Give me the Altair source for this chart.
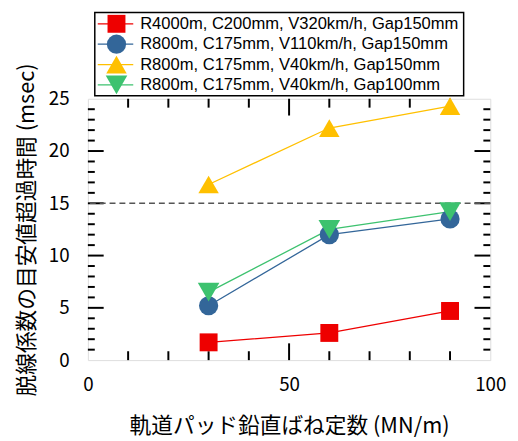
import altair as alt
import pandas as pd

# ---- data ----
series = [
    "R4000m, C200mm, V320km/h, Gap150mm",
    "R800m, C175mm, V110km/h, Gap150mm",
    "R800m, C175mm, V40km/h, Gap150mm",
    "R800m, C175mm, V40km/h, Gap100mm",
]
stiffness = [30, 60, 90]
val_r4000_v320 = [1.7, 2.6, 4.7]
val_r800_v110 = [5.2, 12.0, 13.5]
val_r800_v40_g150 = [16.8, 22.2, 24.3]
val_r800_v40_g100 = [6.5, 12.5, 14.2]
threshold = [15]

x_labels = [0, 50, 100]
y_labels = [0, 5, 10, 15, 20, 25]
x_minor = [10, 20, 30, 40, 60, 70, 80, 90]
x_major = [50]
y_minor = [1, 2, 3, 4, 6, 7, 8, 9, 11, 12, 13, 14, 16, 17, 18, 19, 21, 22, 23, 24]
y_major = [5, 10, 15, 20]

colors = ["#EE0000", "#336699", "#FFC000", "#3DC26F"]
shapes = ["square", "circle", "triangle-up", "triangle-down"]
sizes = [330, 480, 620, 620]

x_title = "軌道パッド鉛直ばね定数 (MN/m)"
y_title = "脱線係数の目安値超過時間 (msec)"

FONT = "Noto Sans CJK JP"
LEG_FONT = "Liberation Sans"
W, H = 408, 265

values = [val_r4000_v320, val_r800_v110, val_r800_v40_g150, val_r800_v40_g100]
rows = []
for i, (s, vals) in enumerate(zip(series, values)):
    for x, y in zip(stiffness, vals):
        rows.append({"series": s, "order": i, "x": x, "y": y})
df = pd.DataFrame(rows)
leg_df = pd.DataFrame({"series": series, "order": list(range(len(series)))})

color_scale = alt.Scale(domain=series, range=colors)
shape_scale = alt.Scale(domain=series, range=shapes)
size_scale = alt.Scale(domain=series, range=sizes)

xs = alt.Scale(domain=[0, 100], nice=False, zero=False)
ys = alt.Scale(domain=[0, 25], nice=False, zero=False)

x_axis = alt.Axis(values=x_labels, ticks=False, domain=False, grid=False,
                  labelFont=FONT, labelFontSize=19, labelColor="black",
                  labelPadding=16, labelFlush=False, labelOverlap=False,
                  title=x_title, titleFont=FONT, titleFontSize=22,
                  titleFontWeight="normal", titleColor="black", titlePadding=21)
y_axis = alt.Axis(values=y_labels, ticks=False, domain=False, grid=False,
                  labelFont=FONT, labelFontSize=19, labelColor="black",
                  labelPadding=19, labelFlush=False, labelOverlap=False,
                  title=y_title, titleFont=FONT, titleFontSize=22,
                  titleFontWeight="normal", titleColor="black", titlePadding=10)

base = alt.Chart(df)

lines = base.mark_line(strokeWidth=1.3).encode(
    x=alt.X("x:Q", scale=xs, axis=x_axis),
    y=alt.Y("y:Q", scale=ys, axis=y_axis),
    color=alt.Color("series:N", scale=color_scale, legend=None),
    detail="order:O",
)

points = base.mark_point(filled=True, opacity=1).encode(
    x=alt.X("x:Q", scale=xs),
    y=alt.Y("y:Q", scale=ys),
    color=alt.Color("series:N", scale=color_scale, legend=None),
    shape=alt.Shape("series:N", scale=shape_scale, legend=None),
    size=alt.Size("series:N", scale=size_scale, legend=None),
    order=alt.Order("order:Q"),
)

dash = alt.Chart(pd.DataFrame({"v": threshold})).mark_rule(
    strokeDash=[6, 4], color="#555555", strokeWidth=1.5
).encode(y=alt.Y("v:Q", scale=ys))


def xticks(vals, length):
    d = alt.Chart(pd.DataFrame({"v": vals}))
    bot = d.mark_rule(color="black", strokeWidth=2).encode(
        x=alt.X("v:Q", scale=xs), y=alt.value(H), y2=alt.value(H - length))
    top = d.mark_rule(color="black", strokeWidth=2).encode(
        x=alt.X("v:Q", scale=xs), y=alt.value(0), y2=alt.value(length))
    return [bot, top]


def yticks(vals, length):
    d = alt.Chart(pd.DataFrame({"v": vals}))
    left = d.mark_rule(color="black", strokeWidth=2).encode(
        y=alt.Y("v:Q", scale=ys), x=alt.value(0), x2=alt.value(length))
    right = d.mark_rule(color="black", strokeWidth=2).encode(
        y=alt.Y("v:Q", scale=ys), x=alt.value(W), x2=alt.value(W - length))
    return [left, right]


tick_layers = xticks(x_minor, 9) + xticks(x_major, 17) + yticks(y_minor, 7) + yticks(y_major, 16)

plot = alt.layer(*tick_layers, dash, lines, points)

# ---- legend drawn as its own layer, rows placed by a point scale ----
ly = alt.Y("series:N", scale=alt.Scale(type="point", domain=series, range=[-76, -14], padding=0), axis=None)
leg_base = alt.Chart(leg_df)
box = alt.Chart(pd.DataFrame({"a": [0]})).mark_rect(
    fill="white", stroke="black", strokeWidth=1.5
).encode(x=alt.value(7), x2=alt.value(381), y=alt.value(-87.5), y2=alt.value(-3))
leg_line = leg_base.mark_rule(strokeWidth=1.3).encode(
    y=ly, x=alt.value(10), x2=alt.value(46),
    color=alt.Color("series:N", scale=color_scale, legend=None),
)
leg_pts = leg_base.mark_point(filled=True, opacity=1).encode(
    y=ly, x=alt.value(29),
    color=alt.Color("series:N", scale=color_scale, legend=None),
    shape=alt.Shape("series:N", scale=shape_scale, legend=None),
    size=alt.Size("series:N", scale=size_scale, legend=None),
)
leg_txt = leg_base.mark_text(align="left", baseline="middle", font=LEG_FONT,
                             fontSize=16.8, color="black").encode(
    y=ly, x=alt.value(53), text="series:N")
legend = alt.layer(box, leg_line, leg_pts, leg_txt)

chart = alt.layer(plot, legend).resolve_scale(y="independent").properties(
    width=W, height=H,
    padding={"left": 7, "top": 0, "right": 4, "bottom": 3},
).configure_view(stroke="black", strokeWidth=2).configure(font=FONT)

chart.save("out.html", embed_options={"renderer": "svg", "actions": False})
